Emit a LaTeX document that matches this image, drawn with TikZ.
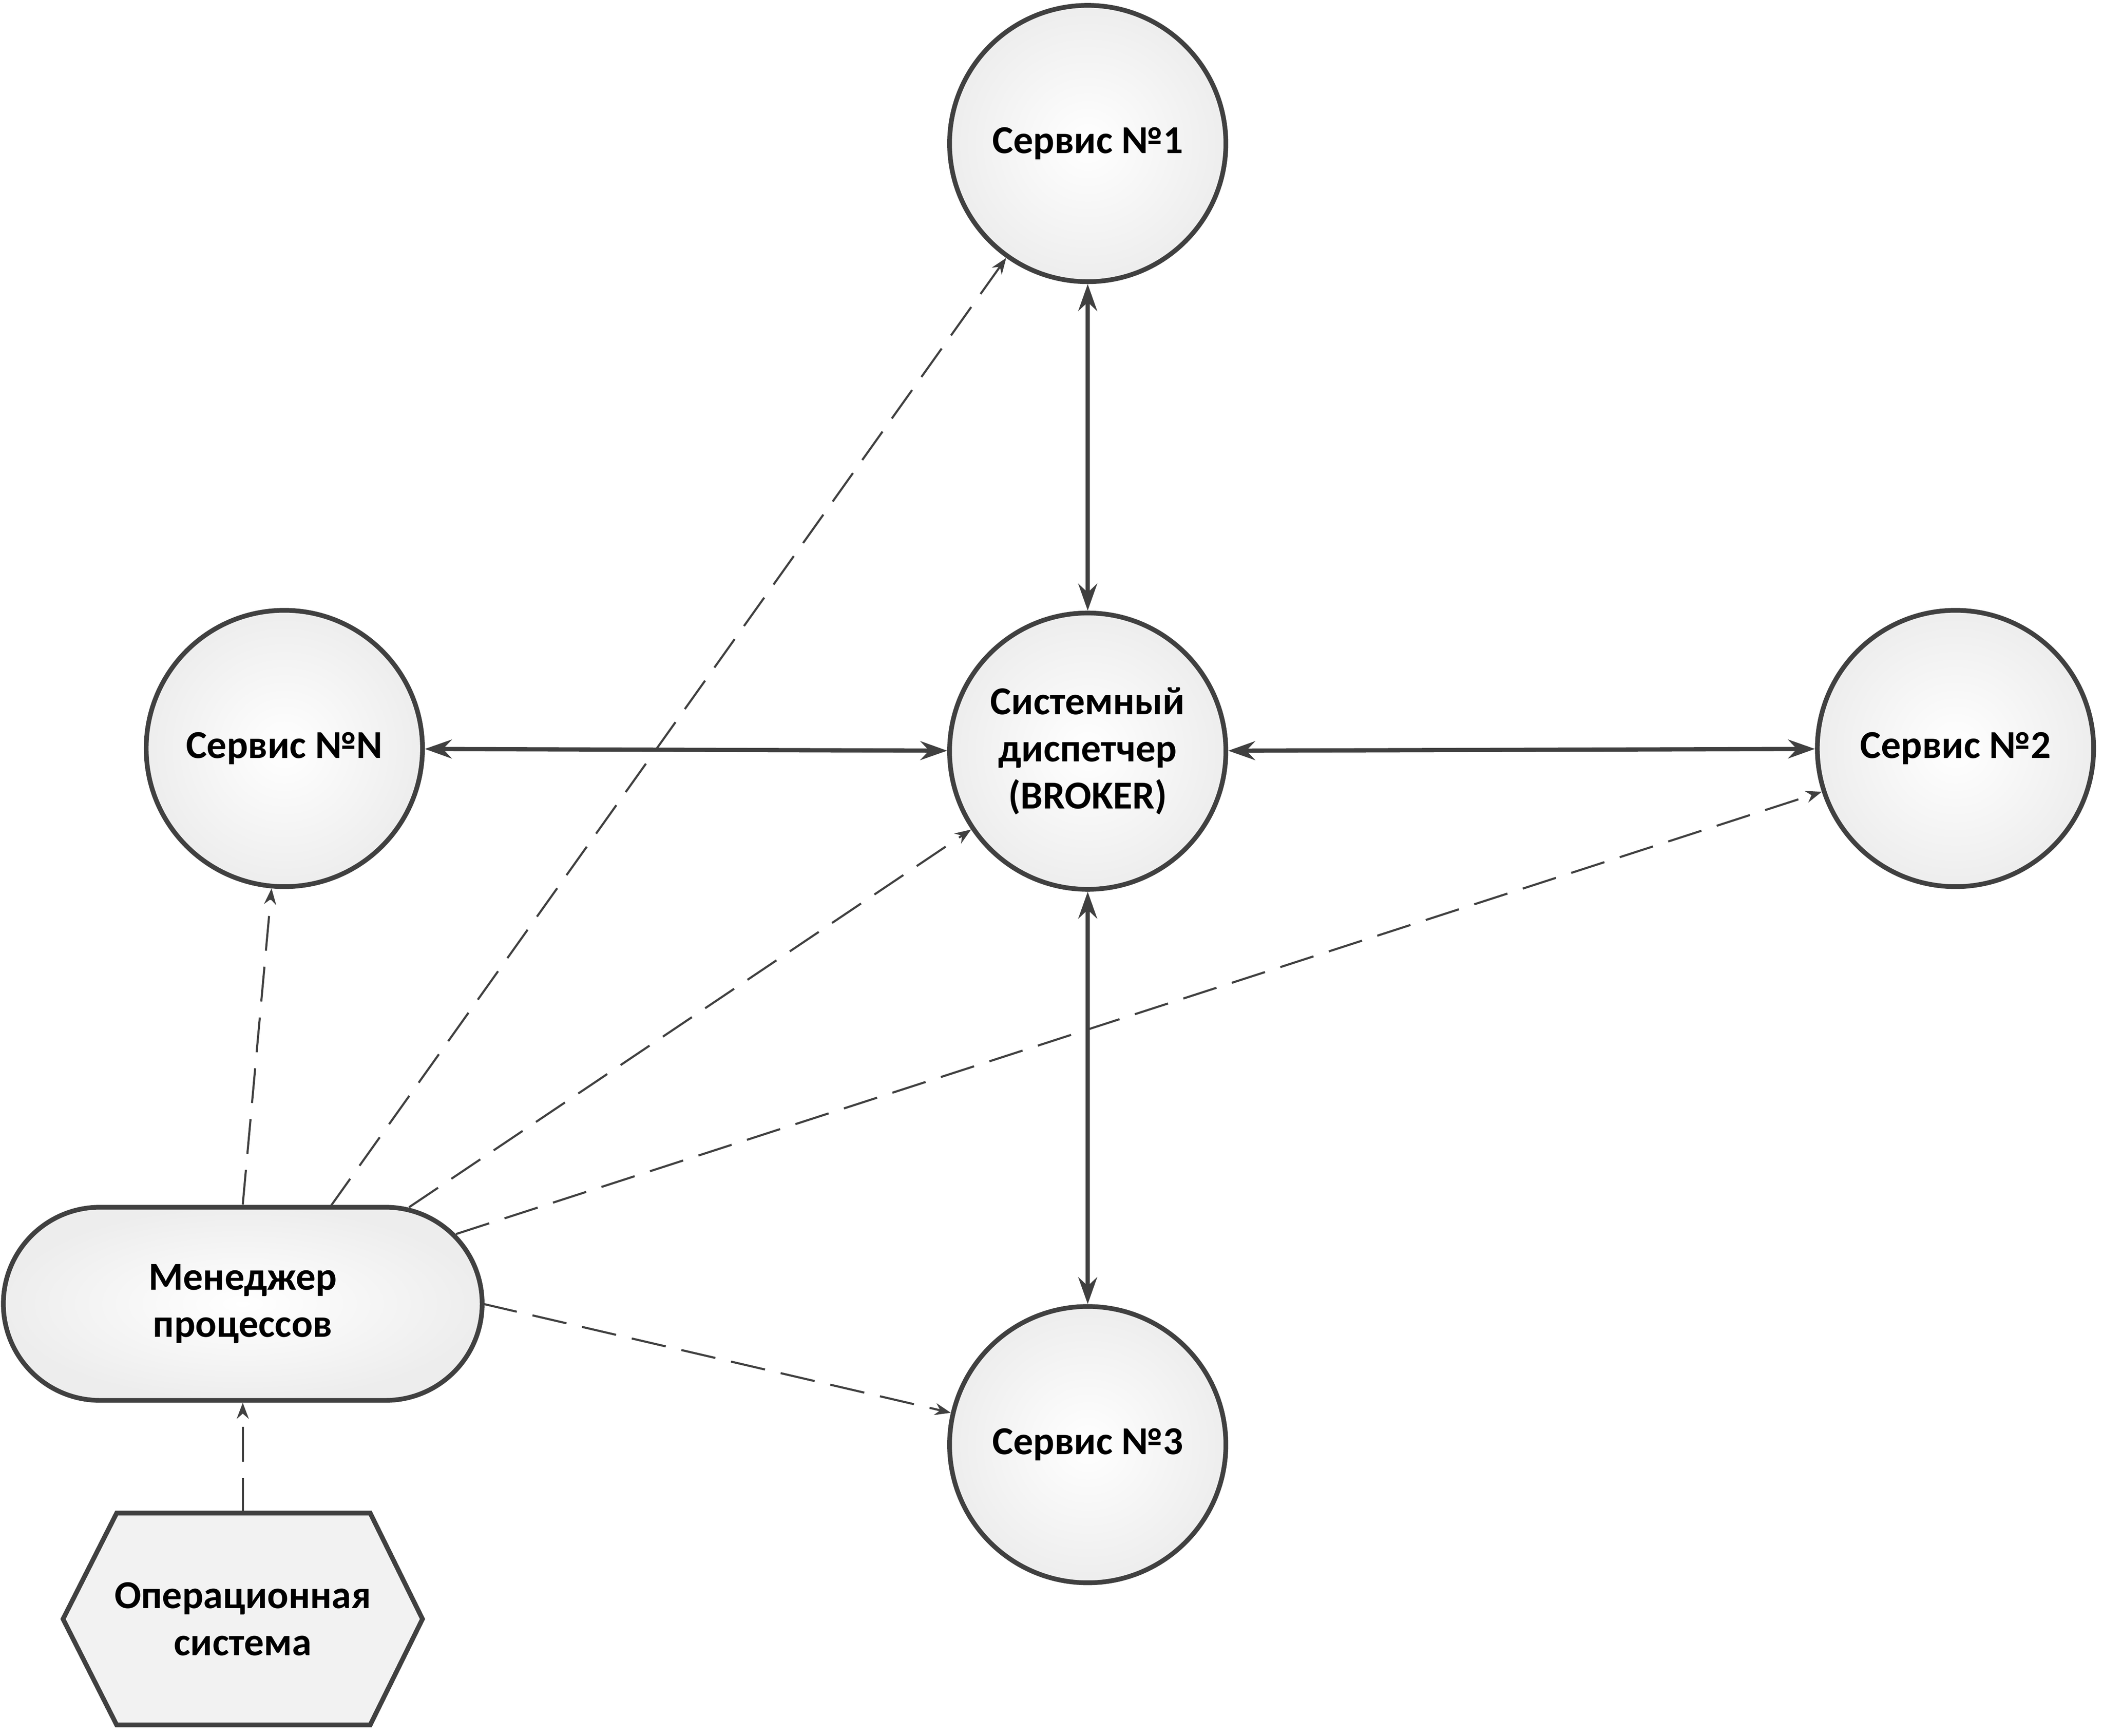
\documentclass[tikz,border=0pt]{standalone}
\usepackage{fontspec}
\setmainfont{Carlito}
\usetikzlibrary{arrows.meta,calc}
\begin{document}
\begin{tikzpicture}[x=0.5mm,y=-0.5mm,
  txt/.style={font=\fontsize{42}{50}\selectfont\bfseries,align=center,text=black},
  svc/.style={txt,circle,draw=black!75,line width=5pt,inner color=white,outer color=black!7,minimum size=103mm},
  dual/.style={line width=4.5pt,draw=black!75,{Stealth[length=10mm,width=7mm]}-{Stealth[length=10mm,width=7mm]}},
  dsh/.style={line width=2.2pt,draw=black!75,dash pattern=on 13mm off 6mm,-{Stealth[length=6mm,width=4.5mm]}}]
\useasboundingbox (0,0) rectangle (1568,1294);
\node[svc] (s1) at (811,107) {Сервис №1};
\node[svc] (sn) at (212,558) {Сервис №N};
\node[svc] (br) at (811,560) {Системный\\диспетчер\\(BROKER)};
\node[svc] (s2) at (1458,558) {Сервис №2};
\node[svc] (s3) at (811,1077) {Сервис №3};
\node[txt,draw=black!75,line width=5pt,rounded corners=36mm,inner color=white,outer color=black!7,minimum width=178.5mm,minimum height=72mm] (mg) at (181,972) {Менеджер\\процессов};
\node[txt,minimum width=134mm,minimum height=79mm] (os) at (181,1207) {};
\fill[black!5,draw=black!75,line width=5pt] (47,1207) -- (87,1128) -- (276,1128) -- (315,1207) -- (276,1286) -- (87,1286) -- cycle;
\node[txt] at (os) {Операционная\\система};
\draw[dual] (br) -- (s1);
\draw[dual] (br) -- (s2);
\draw[dual] (br) -- (s3);
\draw[dual] (br) -- (sn);
\draw[dsh] (181,898) -- (sn);
\draw[dsh] (246,900) -- (s1);
\draw[dsh] (305,900) -- (br);
\draw[dsh] (340,920) -- (s2);
\draw[dsh] (360,972) -- (s3);
\draw[dsh] (os.north) -- (mg.south);
\end{tikzpicture}
\end{document}
